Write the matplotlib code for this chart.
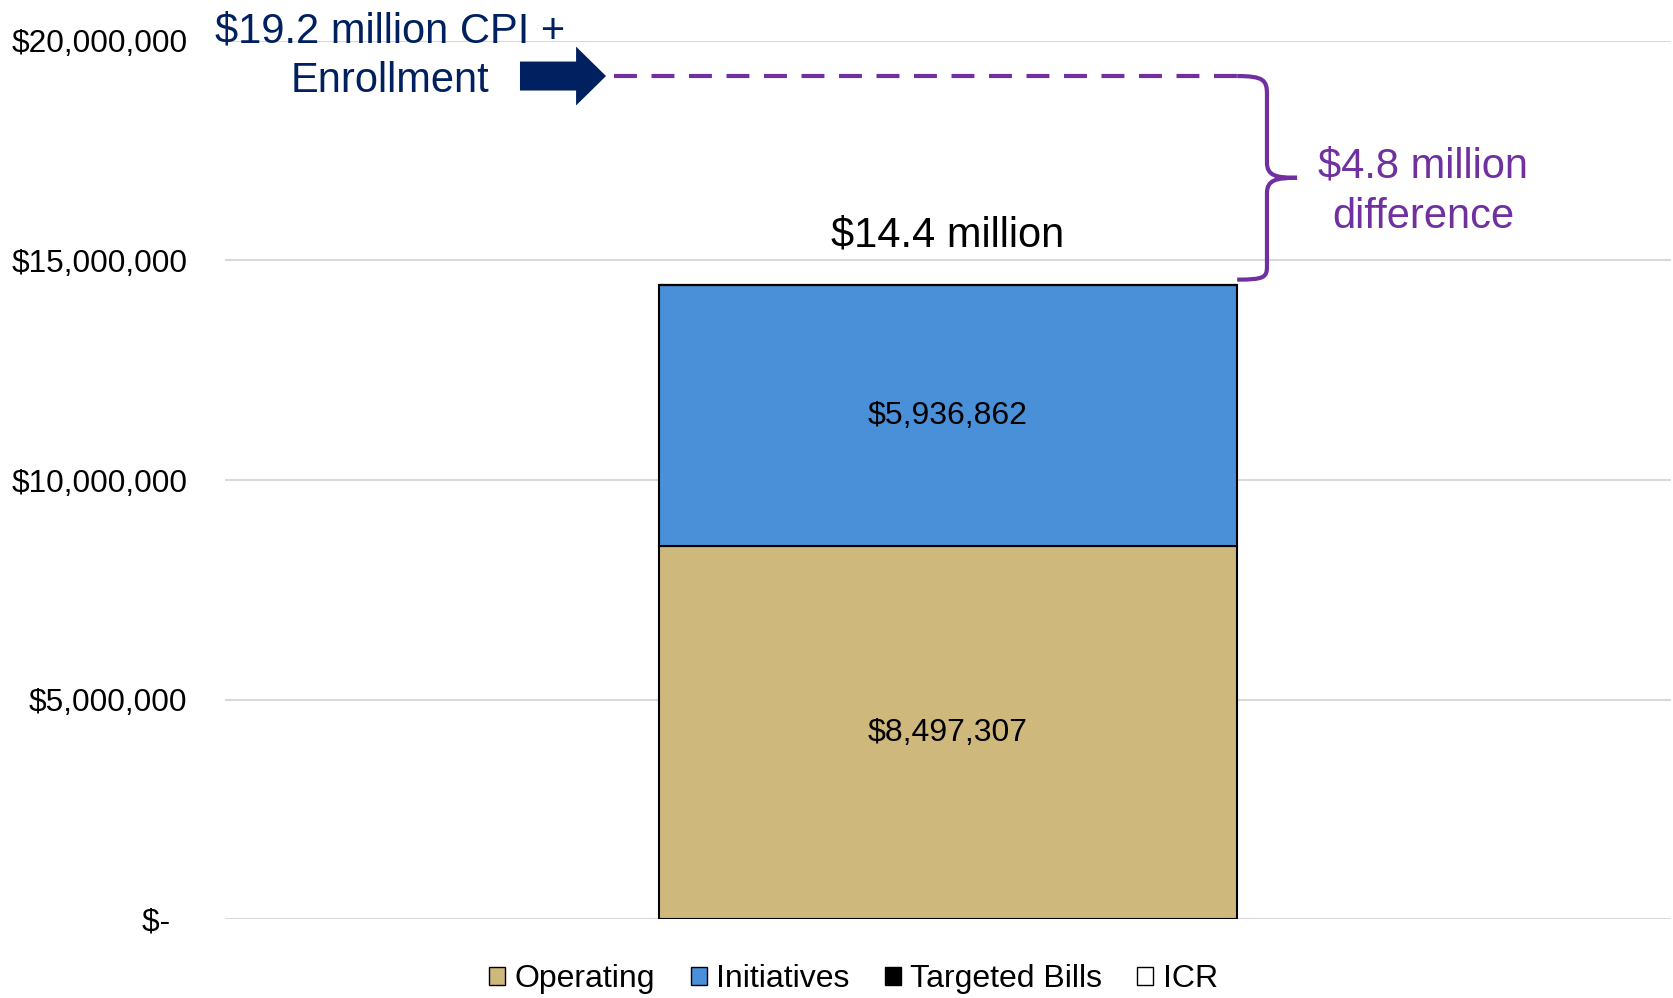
import matplotlib
matplotlib.use("Agg")
import matplotlib.pyplot as plt
from matplotlib.path import Path
from matplotlib.patches import PathPatch, FancyArrow

plt.rcParams['font.family'] = ['Liberation Sans', 'DejaVu Sans']

# ---- data ----
categories = ["Operating", "Initiatives", "Targeted Bills", "ICR"]
values = [8497307, 5936862, 0, 0]
colors = ["#CFB87C", "#4A90D9", "#000000", "#FFFFFF"]
target_value = 19.2e6
total_label = "$14.4 million"
target_label = "$19.2 million CPI +\nEnrollment"
diff_label = "$4.8 million\ndifference"
yticks = [0, 5e6, 10e6, 15e6, 20e6]
ytick_labels = ["$-  ", "$5,000,000", "$10,000,000", "$15,000,000", "$20,000,000"]

NAVY = "#002060"
PURPLE = "#7030A0"

fig = plt.figure(figsize=(16.74, 9.98), dpi=100)
ax = fig.add_axes([0.1344, 0.0790, 0.8638, 0.8800])

bottom = 0
bars = []
for cat, v, c in zip(categories, values, colors):
    b = ax.bar(0, v, width=0.4, bottom=bottom, color=c, edgecolor="black",
               linewidth=1.5, label=cat, zorder=3)
    bars.append(b)
    bottom += v
total = bottom

for b, v in zip(bars[:2], values[:2]):
    ax.bar_label(b, labels=[f"${v:,.0f}"], label_type="center", fontsize=23, color="black")

ax.set_xlim(-0.5, 0.5)
ax.set_ylim(0, 20e6)
ax.set_yticks(yticks)
ax.set_yticklabels(ytick_labels, fontsize=22.8)
ax.set_xticks([])
ax.tick_params(axis="y", length=0, pad=27)
for s in ax.spines.values():
    s.set_visible(False)
ax.grid(axis="y", color="#D9D9D9", linewidth=1.5, zorder=0)
ax.set_axisbelow(True)

# total label
ax.annotate(total_label, xy=(0, total), xytext=(0, 36), textcoords="offset points",
            ha="center", va="center", fontsize=30, color="black", annotation_clip=False)

# dashed target line
ax.plot([-0.231, 0.2], [target_value, target_value], color=PURPLE, linewidth=3,
        dashes=(5.5, 3.5), solid_capstyle="butt", dash_capstyle="butt", zorder=4, clip_on=False)

# arrow
ax.add_patch(FancyArrow(-0.296, target_value, 0.0595, 0, width=0.66e6, head_width=1.34e6,
                        head_length=0.0207, length_includes_head=True, color=NAVY,
                        linewidth=0, zorder=5, clip_on=False))
ax.text(-0.386, 19.65e6, target_label, ha="center", va="center", fontsize=30,
        color=NAVY, linespacing=1.33, clip_on=False)

# brace
top = target_value
bot = total + 0.13e6
mid = (top + bot) / 2
xs, xv, xt = 0.2, 0.2206, 0.2414
verts = [
    (xs, top),
    (xv - 0.002, top), (xv, top - 0.1e6), (xv, top - 0.42e6),
    (xv, mid + 0.35e6),
    (xv, mid + 0.05e6), (xv + 0.006, mid), (xt, mid),
    (xv + 0.006, mid), (xv, mid - 0.05e6), (xv, mid - 0.35e6),
    (xv, bot + 0.3e6),
    (xv, bot + 0.05e6), (xv - 0.002, bot), (xs, bot),
]
codes = [Path.MOVETO,
         Path.CURVE4, Path.CURVE4, Path.CURVE4,
         Path.LINETO,
         Path.CURVE4, Path.CURVE4, Path.CURVE4,
         Path.CURVE4, Path.CURVE4, Path.CURVE4,
         Path.LINETO,
         Path.CURVE4, Path.CURVE4, Path.CURVE4]
ax.add_patch(PathPatch(Path(verts, codes), facecolor="none", edgecolor=PURPLE,
                       linewidth=3, zorder=5, clip_on=False))
ax.text(0.3285, 16.56e6, diff_label, ha="center", va="center", fontsize=30,
        color=PURPLE, linespacing=1.33, clip_on=False)

leg = fig.legend(loc="center", bbox_to_anchor=(0.51, 0.019), ncol=4, frameon=False,
                 fontsize=23, handlelength=0.5, handleheight=0.5, handletextpad=0.3,
                 columnspacing=1.1, borderaxespad=0)
for h in leg.legend_handles:
    h.set_edgecolor("black")
    h.set_linewidth(1.0)

fig.savefig("out.png", dpi=100)
